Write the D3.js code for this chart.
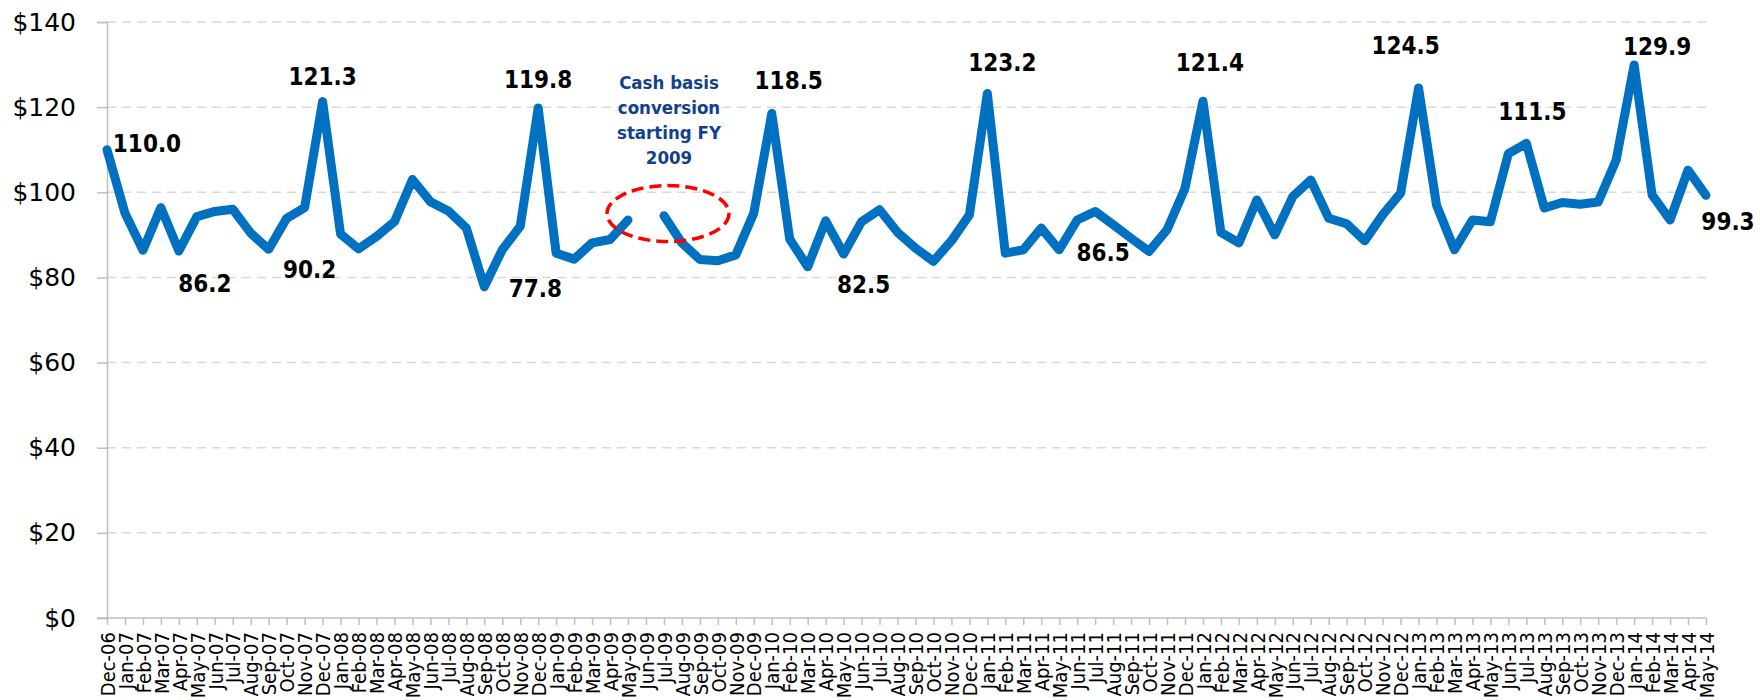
<!DOCTYPE html>
<html><head><meta charset="utf-8">
<script src="https://cdn.jsdelivr.net/npm/d3@7"></script>
<style>body{margin:0;background:#fff;} svg{display:block;}</style>
</head><body>
<svg id="chart" width="1760" height="700"></svg>
<script>
// ---------- data ----------
const months = [
 "Dec-06",
 "Jan-07","Feb-07","Mar-07","Apr-07","May-07","Jun-07","Jul-07","Aug-07","Sep-07","Oct-07","Nov-07","Dec-07",
 "Jan-08","Feb-08","Mar-08","Apr-08","May-08","Jun-08","Jul-08","Aug-08","Sep-08","Oct-08","Nov-08","Dec-08",
 "Jan-09","Feb-09","Mar-09","Apr-09","May-09","Jun-09","Jul-09","Aug-09","Sep-09","Oct-09","Nov-09","Dec-09",
 "Jan-10","Feb-10","Mar-10","Apr-10","May-10","Jun-10","Jul-10","Aug-10","Sep-10","Oct-10","Nov-10","Dec-10",
 "Jan-11","Feb-11","Mar-11","Apr-11","May-11","Jun-11","Jul-11","Aug-11","Sep-11","Oct-11","Nov-11","Dec-11",
 "Jan-12","Feb-12","Mar-12","Apr-12","May-12","Jun-12","Jul-12","Aug-12","Sep-12","Oct-12","Nov-12","Dec-12",
 "Jan-13","Feb-13","Mar-13","Apr-13","May-13","Jun-13","Jul-13","Aug-13","Sep-13","Oct-13","Nov-13","Dec-13",
 "Jan-14","Feb-14","Mar-14","Apr-14","May-14"
];
const values = [
 110.0,
 95.1, 86.4, 96.4, 86.2, 94.3, 95.5, 96.0, 90.4, 86.6, 93.9, 96.4, 121.3,
 90.2, 86.7, 89.6, 93.1, 103.0, 97.8, 95.6, 91.6, 77.8, 86.5, 92.0, 119.8,
 85.7, 84.3, 88.1, 88.9, 93.5, null, 94.5, 88.1, 84.2, 83.9, 85.3, 95.1,
 118.5, 89.0, 82.5, 93.3, 85.5, 93.1, 95.9, 90.6, 86.9, 83.8, 88.6, 94.7,
 123.2, 85.7, 86.5, 91.6, 86.5, 93.5, 95.5, 92.4, 89.2, 86.1, 91.2, 100.9,
 121.4, 90.6, 88.1, 98.2, 90.0, 99.0, 102.9, 93.9, 92.6, 88.6, 94.7, 99.8,
 124.5, 97.0, 86.5, 93.5, 93.1, 109.1, 111.5, 96.3, 97.6, 97.2, 97.7, 107.6,
 129.9, 99.4, 93.5, 105.2, 99.3
];
const yTicks = [0, 20, 40, 60, 80, 100, 120, 140];
const labelMonths = ["Dec-06","Apr-07","Dec-07","Jan-08","Sep-08","Dec-08","Jan-10","Mar-10",
                     "Jan-11","May-11","Jan-12","Jan-13","Jul-13","Jan-14","May-14"];
const annotationLines = ["Cash basis", "conversion", "starting FY", "2009"];
const annotationMonth = "Jun-09";

(function () {
// ---------- layout / style ----------
const labelOffsets = {
 "Dec-06":[40,2], "Apr-07":[26,41], "Dec-07":[0,-17], "Jan-08":[-31,44], "Sep-08":[51,10],
 "Dec-08":[0,-20], "Jan-10":[17,-25], "Mar-10":[56,26], "Jan-11":[15,-23], "May-11":[44,11],
 "Jan-12":[7,-30], "Jan-13":[-13,-34], "Jul-13":[6,-23], "Jan-14":[23,-10], "May-14":[22,35]
};
const svg = d3.select("#chart");
const pLeft = 107, pRight = 1706, pTop = 22, pBottom = 618;
const x = d3.scalePoint().domain(months).range([pLeft, pRight]);
const y = d3.scaleLinear().domain([0, 140]).range([pBottom, pTop]);
const axisGray = "#bfbfbf";

// gridlines
svg.append("g").selectAll("line").data(yTicks.filter(t => t > 0)).join("line")
  .attr("x1", pLeft).attr("x2", pRight)
  .attr("y1", d => y(d)).attr("y2", d => y(d))
  .attr("stroke", "#d9d9d9").attr("stroke-width", 1.5).attr("stroke-dasharray", "9,6");

// y axis
const yAxis = svg.append("g").attr("transform", `translate(${pLeft},0)`)
  .call(d3.axisLeft(y).tickValues(yTicks).tickSize(10).tickPadding(21).tickFormat(d => "$" + d));
yAxis.select(".domain").attr("stroke", axisGray).attr("stroke-width", 1.5);
yAxis.selectAll(".tick line").attr("stroke", axisGray).attr("stroke-width", 1.5);
yAxis.selectAll("text").attr("font-family", "DejaVu Sans").attr("font-size", 25).attr("fill", "#000");

// x axis
const xAxis = svg.append("g").attr("transform", `translate(0,${pBottom})`)
  .call(d3.axisBottom(x).tickSize(7).tickSizeOuter(0));
xAxis.select(".domain").attr("stroke", axisGray).attr("stroke-width", 1.5)
  .attr("d", `M${pLeft - 10},0H${pRight}`);
xAxis.selectAll(".tick line").attr("stroke", axisGray).attr("stroke-width", 1.5);
xAxis.selectAll(".tick text")
  .attr("font-family", "DejaVu Sans Condensed").attr("font-size", 20).attr("fill", "#000")
  .attr("text-anchor", "end")
  .attr("transform", "rotate(-90)")
  .attr("x", -14).attr("y", 0).attr("dy", "0.36em");

// line
const pts = months.map((m, i) => ({m, v: values[i]}));
const line = d3.line().defined(d => d.v != null).x(d => x(d.m)).y(d => y(d.v));
svg.append("path").datum(pts).attr("d", line)
  .attr("fill", "none").attr("stroke", "#0070C0").attr("stroke-width", 9)
  .attr("stroke-linejoin", "round").attr("stroke-linecap", "round");

// data labels
const fmt = d3.format(".1f");
svg.append("g").selectAll("text").data(labelMonths).join("text")
  .attr("x", m => x(m) + labelOffsets[m][0])
  .attr("y", m => y(values[months.indexOf(m)]) + labelOffsets[m][1])
  .attr("text-anchor", "middle")
  .attr("font-family", "DejaVu Sans Condensed").attr("font-weight", "bold").attr("font-size", 24)
  .attr("fill", "#000")
  .text(m => fmt(values[months.indexOf(m)]));

// annotation
const ax = x(annotationMonth) + 22, ay = y(95);
svg.append("ellipse").attr("cx", ax).attr("cy", ay).attr("rx", 61).attr("ry", 28)
  .attr("fill", "none").attr("stroke", "#ff0000").attr("stroke-width", 3.5).attr("stroke-dasharray", "12,6");
svg.append("g").selectAll("text").data(annotationLines).join("text")
  .attr("x", ax + 1).attr("y", (d, i) => ay - 125 + i * 25)
  .attr("text-anchor", "middle")
  .attr("font-family", "DejaVu Sans Condensed").attr("font-weight", "bold").attr("font-size", 18.5)
  .attr("fill", "#123f8f")
  .text(d => d);
})();
</script>
</body></html>
